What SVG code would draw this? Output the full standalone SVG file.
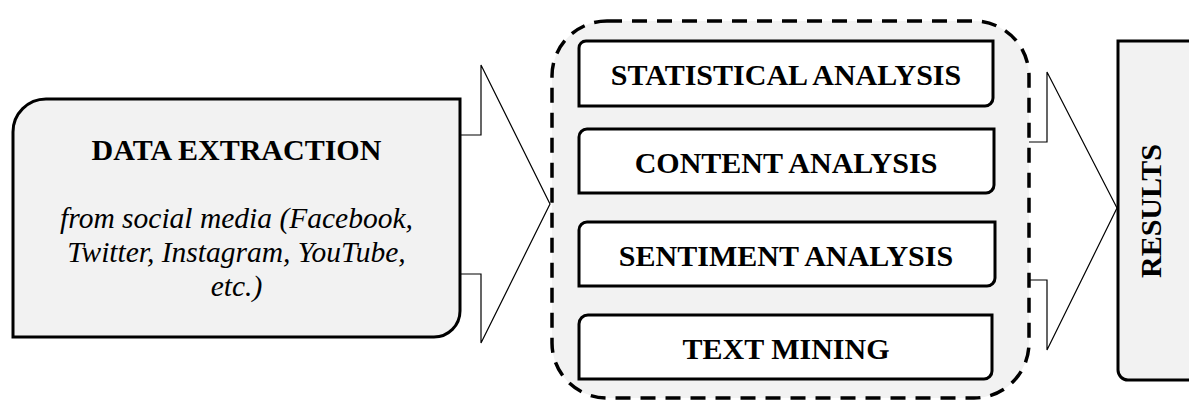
<svg xmlns="http://www.w3.org/2000/svg" width="1189" height="400" viewBox="0 0 1189 400">
<style>
.bg{fill:#ffffff}
.box{fill:#f2f2f2;stroke:#000;stroke-width:3}
.inner{fill:#ffffff;stroke:#000;stroke-width:3}
.dash{fill:#f2f2f2;stroke:#000;stroke-width:3.5;stroke-dasharray:15 10}
.arrow{fill:#ffffff;stroke:#000;stroke-width:1.2;stroke-linejoin:miter}
.t{font-family:"Liberation Serif","Times New Roman",serif;fill:#000;text-anchor:middle}
.b{font-weight:bold;font-size:30px}
.i{font-style:italic;font-size:29.5px}
</style>
<rect class="bg" x="0" y="0" width="1189" height="400"/>
<g id="connectors">
  <path id="arrow1" class="arrow" d="M455,135 H481 V65 L550,204 L481,343 V274 H455"/>
  <path id="arrow2" class="arrow" d="M1024,142 H1047 V72 L1117,208 L1047,350 V280 H1024"/>
</g>
<g id="data-extraction">
  <path class="box" d="M13,132 A33,33 0 0 1 46,99 H460 V311 A26,26 0 0 1 434,337 H13 Z"/>
  <text class="t b" x="236.5" y="160">DATA EXTRACTION</text>
  <text class="t i" x="236.5" y="228">from social media (Facebook,</text>
  <text class="t i" x="236.5" y="262">Twitter, Instagram, YouTube,</text>
  <text class="t i" x="236.5" y="296">etc.)</text>
</g>
<g id="analysis-group">
  <rect class="dash" x="552" y="21" width="477" height="377" rx="55" ry="55"/>
  <g id="statistical-analysis">
    <path class="inner" d="M579,48 A7,7 0 0 1 586,41 H993 V98 A8,8 0 0 1 985,106 H579 Z"/>
    <text class="t b" x="786" y="84.5">STATISTICAL ANALYSIS</text>
  </g>
  <g id="content-analysis">
    <path class="inner" d="M579,137 A8,8 0 0 1 587,129 H994 V185 A8,8 0 0 1 986,193 H579 Z"/>
    <text class="t b" x="786" y="173">CONTENT ANALYSIS</text>
  </g>
  <g id="sentiment-analysis">
    <path class="inner" d="M579,230 A8,8 0 0 1 587,222 H995 V278 A8,8 0 0 1 987,286 H579 Z"/>
    <text class="t b" x="786" y="266">SENTIMENT ANALYSIS</text>
  </g>
  <g id="text-mining">
    <path class="inner" d="M579,324 A9,9 0 0 1 588,315 H992 V371 A8,8 0 0 1 984,379 H579 Z"/>
    <text class="t b" x="786" y="358.5">TEXT MINING</text>
  </g>
</g>
<g id="results">
  <path class="box" d="M1118,41 H1200 V380 H1128 A10,10 0 0 1 1118,370 Z"/>
  <text class="t b" transform="translate(1161,211) rotate(-90)" x="0" y="0">RESULTS</text>
</g>
</svg>
